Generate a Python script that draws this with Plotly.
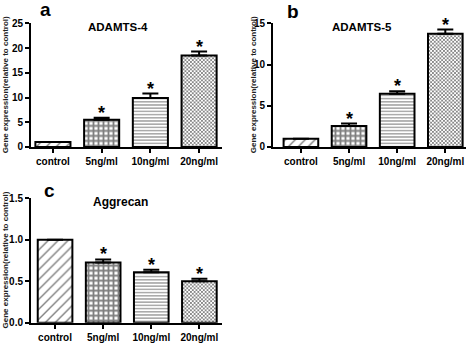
import plotly.graph_objects as go

categories = ["control", "5ng/ml", "10ng/ml", "20ng/ml"]

adamts4_mean = [1.0, 5.5, 9.9, 18.5]
adamts4_err = [0.0, 0.4, 0.9, 0.8]

adamts5_mean = [1.0, 2.55, 6.45, 13.75]
adamts5_err = [0.0, 0.3, 0.3, 0.5]

aggrecan_mean = [1.0, 0.725, 0.608, 0.499]
aggrecan_err = [0.0, 0.038, 0.031, 0.031]

significant = [False, True, True, True]

W, H = 472, 350
FONT = "Liberation Sans, Arial, sans-serif"


def px(x):
    return x / W


def py(y):
    return 1 - y / H


pat_shape = ["/", "+", "-", "x"]
pat_size = [7, 5, 3.2, 2.6]
pat_solid = [0.2, 0.6, 0.33, 0.55]

panels = [
    dict(mean=adamts4_mean, err=adamts4_err, title="ADAMTS-4", letter="a",
         box=(31, 222, 18, 146), xr=[-0.45, 3.47], yr=[0, 25], dt=5, fmt="d",
         title_xy=(118, 22), letter_xy=(45, 4), ytitle_x=5, tsize=11.5),
    dict(mean=adamts5_mean, err=adamts5_err, title="ADAMTS-5", letter="b",
         box=(273, 466, 18, 146), xr=[-0.58, 3.43], yr=[0, 15], dt=5, fmt="d",
         title_xy=(362, 22), letter_xy=(293, 6), ytitle_x=253, tsize=11.5),
    dict(mean=aggrecan_mean, err=aggrecan_err, title="Aggrecan", letter="c",
         box=(31, 222, 199, 328), xr=[-0.5, 3.47], yr=[0, 1.5], dt=0.5, fmt=".1f",
         title_xy=(121, 203), letter_xy=(49, 191), ytitle_x=5, tsize=12),
]

fig = go.Figure()
annotations = []
layout = {}
for i, p in enumerate(panels):
    n = "" if i == 0 else str(i + 1)
    xa, ya = "x" + n, "y" + n
    x0, x1, ytop, ybot = p["box"]
    fig.add_trace(go.Bar(
        x=categories, y=p["mean"], xaxis=xa, yaxis=ya, width=0.72,
        marker=dict(color="white", line=dict(color="black", width=2),
                    pattern=dict(shape=pat_shape, size=pat_size, solidity=pat_solid,
                                 fgcolor="black", bgcolor="white")),
        error_y=dict(type="data", symmetric=False, array=p["err"],
                     arrayminus=[0] * len(categories), color="black",
                     thickness=2, width=8),
        showlegend=False, hoverinfo="skip",
    ))
    layout["xaxis" + n] = dict(
        domain=[px(x0), px(x1)], anchor=ya, range=p["xr"], showline=True,
        linecolor="black", linewidth=2, ticks="outside", ticklen=4, tickwidth=2,
        tickcolor="black", showgrid=False, zeroline=False, fixedrange=True,
        tickfont=dict(family=FONT, size=10, color="black", weight="bold"))
    layout["yaxis" + n] = dict(
        domain=[py(ybot), py(ytop)], anchor=xa, range=p["yr"], dtick=p["dt"],
        tickformat=p["fmt"], showline=True, linecolor="black", linewidth=2,
        ticks="outside", ticklen=4, tickwidth=2, tickcolor="black",
        showgrid=False, zeroline=False, fixedrange=True,
        tickfont=dict(family=FONT, size=10, color="black", weight="bold"))
    for c, m, e, s in zip(categories, p["mean"], p["err"], significant):
        if s:
            annotations.append(dict(
                x=c, y=m + e, xref=xa, yref=ya, text="*", showarrow=False,
                yanchor="bottom", yshift=-7,
                font=dict(family=FONT, size=18, color="black", weight="bold")))
    tx, ty = p["title_xy"]
    annotations.append(dict(
        x=px(tx), y=py(ty), xref="paper", yref="paper", text=p["title"],
        showarrow=False, xanchor="center", yanchor="middle",
        font=dict(family=FONT, size=p["tsize"], color="black", weight="bold")))
    lx, ly = p["letter_xy"]
    annotations.append(dict(
        x=px(lx), y=py(ly), xref="paper", yref="paper", text=p["letter"],
        showarrow=False, xanchor="center", yanchor="middle",
        font=dict(family=FONT, size=19, color="black", weight="bold")))
    annotations.append(dict(
        x=px(p["ytitle_x"]), y=py((ytop + ybot) / 2), xref="paper", yref="paper",
        text="Gene expression(relative to control)", textangle=-90,
        showarrow=False, xanchor="center", yanchor="middle",
        font=dict(family=FONT, size=8, color="#222", weight="bold")))

fig.update_layout(
    width=W, height=H, margin=dict(l=0, r=0, t=0, b=0),
    paper_bgcolor="white", plot_bgcolor="white", hovermode=False,
    annotations=annotations, **layout)

fig.write_html("out.html", config={"displayModeBar": False},
               post_script="document.body.style.margin='0';")
